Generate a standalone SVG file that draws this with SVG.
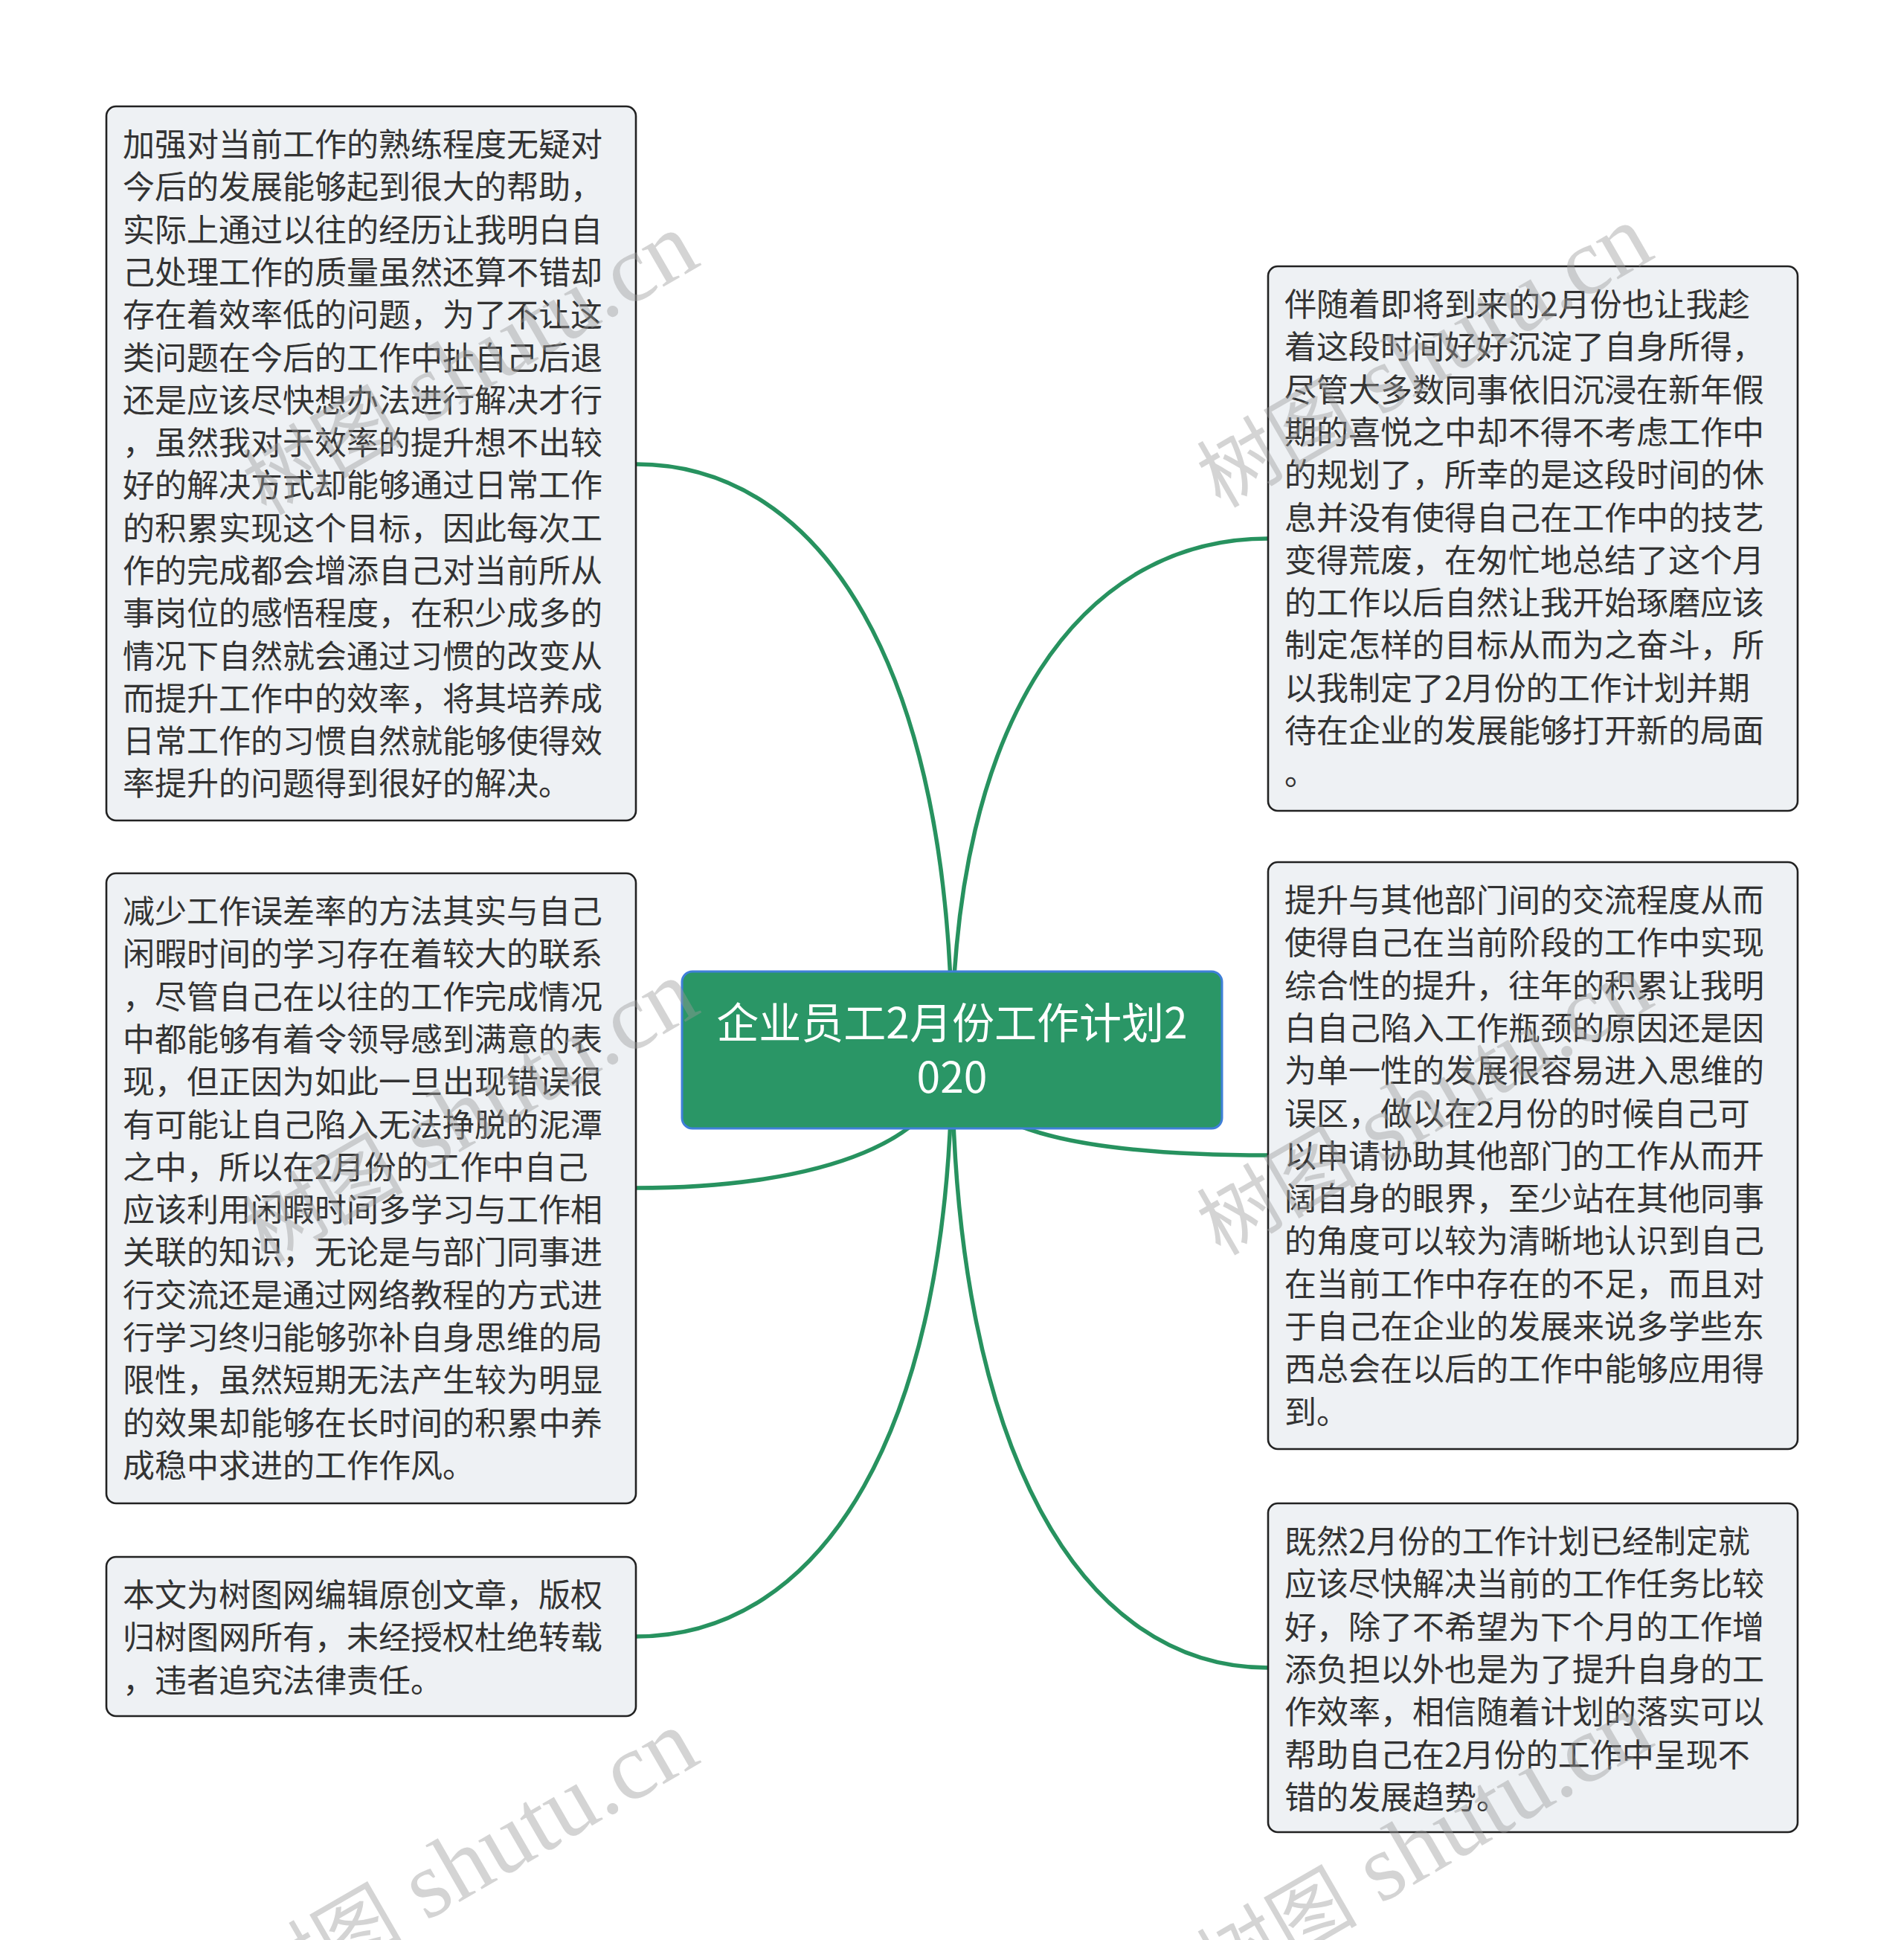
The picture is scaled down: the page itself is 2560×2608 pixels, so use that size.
<svg xmlns="http://www.w3.org/2000/svg" width="2560" height="2608" viewBox="0 0 2560 2608">
<style>
.box{fill:#eef1f4;stroke:#222;stroke-width:2.6}
.t{font-family:"Noto Sans CJK SC","Noto Sans",sans-serif;font-size:43px;fill:#333}
.root{fill:#2a9666;stroke:#3f7fd8;stroke-width:3}
.rt{font-family:"Noto Sans CJK SC","Noto Sans",sans-serif;font-size:57px;fill:#fff;text-anchor:middle}
.edge{fill:none;stroke:#27925f;stroke-width:5.5;stroke-linecap:round}
.wm{font-family:"Liberation Serif","Noto Sans CJK SC",serif;font-size:128px;fill:#9a9a9a;opacity:0.42;text-anchor:end}
.wc{font-size:108px}
</style>
<rect width="2560" height="2608" fill="#fff"/>
<g id="connectors">
<path class="edge" d="M1280,1412 C1280,900 1106,624 855,624"/>
<path class="edge" d="M1280,1412 C1280,965 1454,724 1705,724"/>
<path class="edge" d="M1280,1412 C1280,1520 1454,1553 1705,1553"/>
<path class="edge" d="M1280,1412 C1280,1532 1106,1597 855,1597"/>
<path class="edge" d="M1280,1412 C1280,1924 1106,2200 855,2200"/>
<path class="edge" d="M1280,1412 C1280,1952 1454,2242 1705,2242"/>
</g>
<g id="root">
<rect class="root" x="917" y="1306" width="726" height="211" rx="14"/>
<text class="rt" x="1280" y="1396"><tspan x="1280">企业员工2月份工作计划2</tspan><tspan x="1280" dy="73">020</tspan></text>
</g>
<g id="left1">
<rect class="box" x="143" y="143" width="712" height="960" rx="13"/>
<text class="t" x="165" y="210"><tspan x="165">加强对当前工作的熟练程度无疑对</tspan><tspan x="165" dy="57.3">今后的发展能够起到很大的帮助，</tspan><tspan x="165" dy="57.3">实际上通过以往的经历让我明白自</tspan><tspan x="165" dy="57.3">己处理工作的质量虽然还算不错却</tspan><tspan x="165" dy="57.3">存在着效率低的问题，为了不让这</tspan><tspan x="165" dy="57.3">类问题在今后的工作中扯自己后退</tspan><tspan x="165" dy="57.3">还是应该尽快想办法进行解决才行</tspan><tspan x="165" dy="57.3">，虽然我对于效率的提升想不出较</tspan><tspan x="165" dy="57.3">好的解决方式却能够通过日常工作</tspan><tspan x="165" dy="57.3">的积累实现这个目标，因此每次工</tspan><tspan x="165" dy="57.3">作的完成都会增添自己对当前所从</tspan><tspan x="165" dy="57.3">事岗位的感悟程度，在积少成多的</tspan><tspan x="165" dy="57.3">情况下自然就会通过习惯的改变从</tspan><tspan x="165" dy="57.3">而提升工作中的效率，将其培养成</tspan><tspan x="165" dy="57.3">日常工作的习惯自然就能够使得效</tspan><tspan x="165" dy="57.3">率提升的问题得到很好的解决。</tspan></text>
</g>
<g id="left2">
<rect class="box" x="143" y="1174" width="712" height="847" rx="13"/>
<text class="t" x="165" y="1241"><tspan x="165">减少工作误差率的方法其实与自己</tspan><tspan x="165" dy="57.3">闲暇时间的学习存在着较大的联系</tspan><tspan x="165" dy="57.3">，尽管自己在以往的工作完成情况</tspan><tspan x="165" dy="57.3">中都能够有着令领导感到满意的表</tspan><tspan x="165" dy="57.3">现，但正因为如此一旦出现错误很</tspan><tspan x="165" dy="57.3">有可能让自己陷入无法挣脱的泥潭</tspan><tspan x="165" dy="57.3">之中，所以在2月份的工作中自己</tspan><tspan x="165" dy="57.3">应该利用闲暇时间多学习与工作相</tspan><tspan x="165" dy="57.3">关联的知识，无论是与部门同事进</tspan><tspan x="165" dy="57.3">行交流还是通过网络教程的方式进</tspan><tspan x="165" dy="57.3">行学习终归能够弥补自身思维的局</tspan><tspan x="165" dy="57.3">限性，虽然短期无法产生较为明显</tspan><tspan x="165" dy="57.3">的效果却能够在长时间的积累中养</tspan><tspan x="165" dy="57.3">成稳中求进的工作作风。</tspan></text>
</g>
<g id="left3">
<rect class="box" x="143" y="2093" width="712" height="214" rx="13"/>
<text class="t" x="165" y="2160"><tspan x="165">本文为树图网编辑原创文章，版权</tspan><tspan x="165" dy="57.3">归树图网所有，未经授权杜绝转载</tspan><tspan x="165" dy="57.3">，违者追究法律责任。</tspan></text>
</g>
<g id="right1">
<rect class="box" x="1705" y="358" width="712" height="732" rx="13"/>
<text class="t" x="1727" y="425"><tspan x="1727">伴随着即将到来的2月份也让我趁</tspan><tspan x="1727" dy="57.3">着这段时间好好沉淀了自身所得，</tspan><tspan x="1727" dy="57.3">尽管大多数同事依旧沉浸在新年假</tspan><tspan x="1727" dy="57.3">期的喜悦之中却不得不考虑工作中</tspan><tspan x="1727" dy="57.3">的规划了，所幸的是这段时间的休</tspan><tspan x="1727" dy="57.3">息并没有使得自己在工作中的技艺</tspan><tspan x="1727" dy="57.3">变得荒废，在匆忙地总结了这个月</tspan><tspan x="1727" dy="57.3">的工作以后自然让我开始琢磨应该</tspan><tspan x="1727" dy="57.3">制定怎样的目标从而为之奋斗，所</tspan><tspan x="1727" dy="57.3">以我制定了2月份的工作计划并期</tspan><tspan x="1727" dy="57.3">待在企业的发展能够打开新的局面</tspan><tspan x="1727" dy="57.3">。</tspan></text>
</g>
<g id="right2">
<rect class="box" x="1705" y="1159" width="712" height="789" rx="13"/>
<text class="t" x="1727" y="1226"><tspan x="1727">提升与其他部门间的交流程度从而</tspan><tspan x="1727" dy="57.3">使得自己在当前阶段的工作中实现</tspan><tspan x="1727" dy="57.3">综合性的提升，往年的积累让我明</tspan><tspan x="1727" dy="57.3">白自己陷入工作瓶颈的原因还是因</tspan><tspan x="1727" dy="57.3">为单一性的发展很容易进入思维的</tspan><tspan x="1727" dy="57.3">误区，做以在2月份的时候自己可</tspan><tspan x="1727" dy="57.3">以申请协助其他部门的工作从而开</tspan><tspan x="1727" dy="57.3">阔自身的眼界，至少站在其他同事</tspan><tspan x="1727" dy="57.3">的角度可以较为清晰地认识到自己</tspan><tspan x="1727" dy="57.3">在当前工作中存在的不足，而且对</tspan><tspan x="1727" dy="57.3">于自己在企业的发展来说多学些东</tspan><tspan x="1727" dy="57.3">西总会在以后的工作中能够应用得</tspan><tspan x="1727" dy="57.3">到。</tspan></text>
</g>
<g id="right3">
<rect class="box" x="1705" y="2021" width="712" height="442" rx="13"/>
<text class="t" x="1727" y="2088"><tspan x="1727">既然2月份的工作计划已经制定就</tspan><tspan x="1727" dy="57.3">应该尽快解决当前的工作任务比较</tspan><tspan x="1727" dy="57.3">好，除了不希望为下个月的工作增</tspan><tspan x="1727" dy="57.3">添负担以外也是为了提升自身的工</tspan><tspan x="1727" dy="57.3">作效率，相信随着计划的落实可以</tspan><tspan x="1727" dy="57.3">帮助自己在2月份的工作中呈现不</tspan><tspan x="1727" dy="57.3">错的发展趋势。</tspan></text>
</g>
<g id="watermarks">
<text class="wm" transform="translate(945,355) rotate(-30)"><tspan class="wc">树图</tspan> shutu.cn</text>
<text class="wm" transform="translate(945,1360) rotate(-30)"><tspan class="wc">树图</tspan> shutu.cn</text>
<text class="wm" transform="translate(945,2368) rotate(-30)"><tspan class="wc">树图</tspan> shutu.cn</text>
<text class="wm" transform="translate(2228,345) rotate(-30)"><tspan class="wc">树图</tspan> shutu.cn</text>
<text class="wm" transform="translate(2228,1350) rotate(-30)"><tspan class="wc">树图</tspan> shutu.cn</text>
<text class="wm" transform="translate(2228,2345) rotate(-30)"><tspan class="wc">树图</tspan> shutu.cn</text>
</g>
</svg>
